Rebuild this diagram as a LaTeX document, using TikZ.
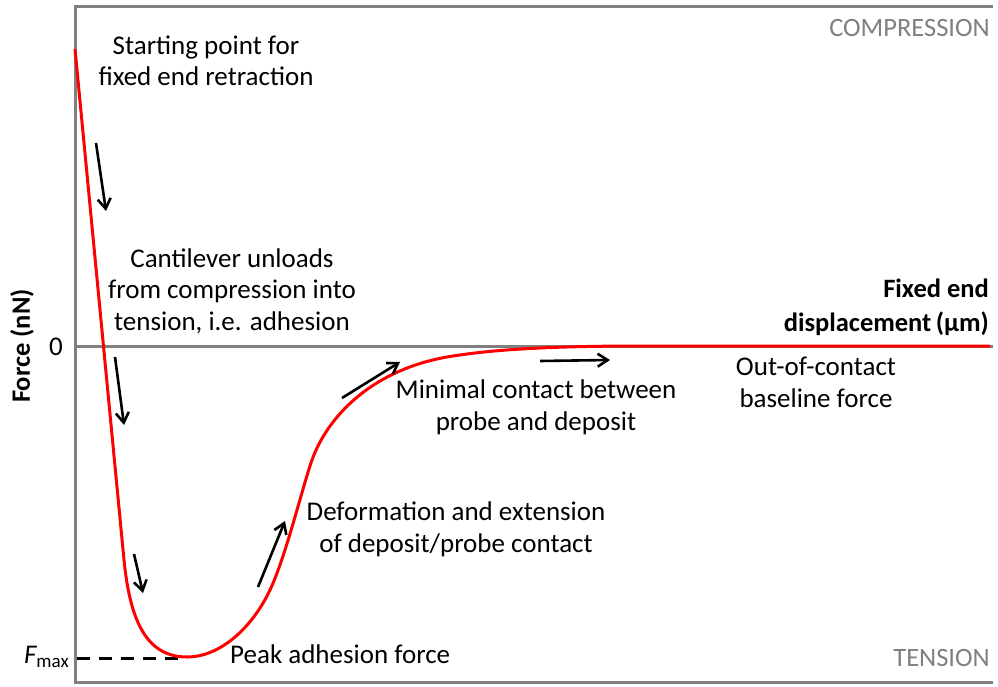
\documentclass[tikz,border=0pt]{standalone}
\usepackage{fontspec}
\setmainfont{Carlito}
\usetikzlibrary{arrows.meta}
\definecolor{axisgray}{RGB}{128,128,128}
\begin{document}
\begin{tikzpicture}[x=1pt,y=-1pt,
  axis/.style={draw=axisgray,line width=3pt},
  curve/.style={draw=red,line width=3pt},
  move/.style={draw=black,line width=2.6pt,-{Straight Barb[length=10pt,width=13pt]}},
  lbl/.style={font=\fontsize{27}{31.5}\selectfont,inner sep=0pt,align=center,anchor=base},
  side/.style={font=\fontsize{26.5}{31}\selectfont,text=axisgray,inner sep=0pt,anchor=base east}]
\useasboundingbox (0,0) rectangle (998,687);
% axes frame
\coordinate (tl) at (75,7);
\coordinate (tr) at (993,7);
\coordinate (bl) at (75,682);
\coordinate (br) at (993,682);
\coordinate (zl) at (75,346);
\coordinate (zr) at (993,346);
\draw[axis] (tr) -- (tl) -- (bl) -- (br);
\draw[axis] (zl) -- (zr);
% Fmax dashed
\coordinate (fl) at (75,658);
\coordinate (fr) at (187,658);
\draw[black,line width=3pt,dash pattern=on 13pt off 9pt,dash phase=-2pt] (fl) -- (fr);
% curve
\coordinate (c0) at (75,49);
\coordinate (c1) at (124,560);
\coordinate (c2) at (187,657);
\coordinate (c3) at (270,590);
\coordinate (c4) at (312,460);
\coordinate (c5) at (460,355);
\coordinate (c6) at (640,346);
\coordinate (c7) at (990,346);
\draw[curve] (c0) -- (c1) .. controls (130,620) and (146,657) .. (c2)
  .. controls (220,657) and (252,628) .. (c3)
  .. controls (286,556) and (303,485) .. (c4)
  .. controls (327,418) and (372,366) .. (c5)
  .. controls (500,349) and (560,346) .. (c6) -- (c7);
% arrows
\coordinate (a1s) at (96,143);  \coordinate (a1e) at (106,211);
\coordinate (a2s) at (115,357); \coordinate (a2e) at (124,425);
\coordinate (a3s) at (134,554); \coordinate (a3e) at (143,593);
\coordinate (a4s) at (258,587); \coordinate (a4e) at (285,521);
\coordinate (a5s) at (342,398); \coordinate (a5e) at (400,362);
\coordinate (a6s) at (540,361); \coordinate (a6e) at (610,360);
\draw[move] (a1s) -- (a1e);
\draw[move] (a2s) -- (a2e);
\draw[move] (a3s) -- (a3e);
\draw[move] (a4s) -- (a4e);
\draw[move] (a5s) -- (a5e);
\draw[move] (a6s) -- (a6e);
% labels (anchor base = baseline of last line)
\node[lbl] (start) at (206,86) {Starting point for\\fixed end retraction};
\node[lbl] (unload) at (232,330) {Cantilever unloads\\from compression into\\tension, i.e. adhesion};
\node[lbl] (minimal) at (536,430) {Minimal contact between\\probe and deposit};
\node[lbl] (deform) at (456,552) {Deformation and extension\\of deposit/probe contact};
\node[lbl] (outof) at (816,407) {Out-of-contact\\baseline force};
\node[lbl,anchor=base west] (peak) at (230,663) {Peak adhesion force};
\node[lbl,anchor=base east] (fmax) at (69,663) {\itshape F\upshape\raisebox{-0.35ex}{\fontsize{19}{20}\selectfont max}};
\node[lbl,anchor=base east] (zero) at (63,355) {0};
\node[lbl,anchor=base east,align=right,font=\fontsize{26.5}{34}\selectfont\bfseries] (xlab) at (989,331) {Fixed end\\displacement\,(μm)};
\node[lbl,anchor=center,rotate=90,font=\fontsize{26.5}{31}\selectfont\bfseries] (ylab) at (22,346) {Force (nN)};
\node[side] (comp) at (990,37) {COMPRESSION};
\node[side] (tens) at (990,666) {TENSION};
\end{tikzpicture}
\end{document}
